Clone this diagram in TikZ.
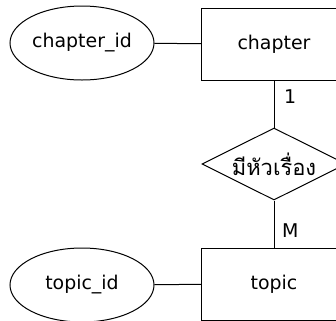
\documentclass[tikz,border=0pt]{standalone}
\usepackage{fontspec}
\setmainfont{DejaVu Sans}
\newfontfamily\thaifont[Script=Thai]{Loma}
\usetikzlibrary{shapes.geometric}
\begin{document}
\begin{tikzpicture}[x=1bp,y=-1bp,
  every node/.style={font=\fontsize{19}{22}\selectfont, inner sep=0pt},
  entity/.style={draw, rectangle, minimum width=144bp, minimum height=72bp},
  attr/.style={draw, ellipse, minimum width=144bp, minimum height=74bp},
  rel/.style={draw, diamond, minimum width=144bp, minimum height=72bp, aspect=2},
  conn/.style={draw, line width=1bp},
  card/.style={anchor=west}]
  \useasboundingbox (0,0) rectangle (336,321);
  \clip (0,0) rectangle (336,321);
  \begin{scope}[line width=1bp]
  \node[entity] (chapter) at (274,44) {chapter};
  \node[attr] (chapterid) at (82,43) {chapter\_id};
  \node[rel] (has) at (274,164) {\thaifont\fontsize{22}{24}\selectfont มีหัวเรื่อง};
  \node[entity] (topic) at (274,284) {topic};
  \node[attr] (topicid) at (82,285) {topic\_id};
  \end{scope}
  \draw[conn] (chapterid) -- (chapter);
  \draw[conn] (topicid) -- (topic);
  \draw[conn] (chapter) -- (has);
  \draw[conn] (has) -- (topic);
  \node[card] (one) at (284,97) {1};
  \node[card] (many) at (282,231) {M};
\end{tikzpicture}
\end{document}
